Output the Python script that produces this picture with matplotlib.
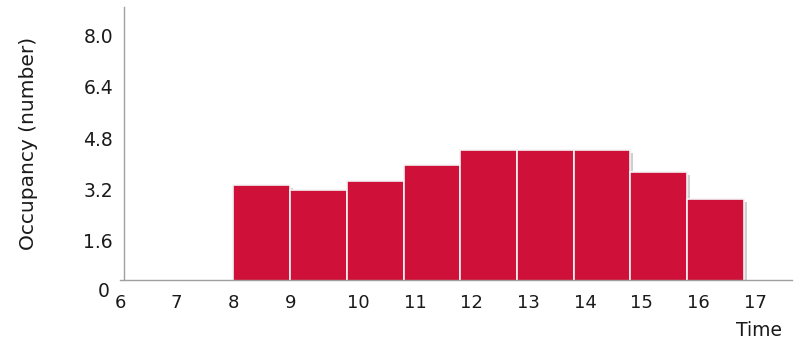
import matplotlib
matplotlib.use("Agg")
import matplotlib.pyplot as plt
import matplotlib.transforms as mtransforms

# hourly occupancy (bar starts at the hour, one hour wide)
hours = [8, 9, 10, 11, 12, 13, 14, 15, 16]
occupancy = [3.33, 3.17, 3.47, 3.95, 4.44, 4.44, 4.44, 3.74, 2.91]
ytick_vals = [1.6, 3.2, 4.8, 6.4, 8.0]
ytick_labels = ["1.6", "3.2", "4.8", "6.4", "8.0"]
xtick_vals = list(range(6, 18))
xtick_labels = [str(h) for h in xtick_vals]

bar_color = "#CF113A"
axis_color = "#A0A0A0"
text_color = "#1A1A1A"

plt.rcParams["font.family"] = "DejaVu Sans"

fig = plt.figure(figsize=(8.02, 3.42), dpi=100)
ax = fig.add_axes([120 / 802, 62 / 342, 672 / 802, 273 / 342])

# spines first: moving a spine resets the tick settings
for side in ["top", "right"]:
    ax.spines[side].set_visible(False)
ax.spines["left"].set_position(("outward", -3))
for side in ["left", "bottom"]:
    ax.spines[side].set_color(axis_color)
    ax.spines[side].set_linewidth(1)
    ax.spines[side].set_zorder(3)

# soft shadow behind the bars
shadow = mtransforms.offset_copy(ax.transData, fig=fig, x=3, y=-3, units="dots")
ax.bar(hours, occupancy, width=1.0, align="edge", color="#888888", alpha=0.4,
       linewidth=0, transform=shadow, zorder=1)
ax.bar(hours, occupancy, width=1.0, align="edge", color=bar_color,
       edgecolor="#F4F4F4", linewidth=1.2, zorder=2)

ax.set_xlim(6, 17.85)
ax.set_ylim(0.366, 8.9)

ax.set_xticks(xtick_vals)
ax.set_xticklabels(xtick_labels, fontsize=13, color=text_color)
# one-digit hours sit centred on the tick, two-digit ones start at it
for lbl in ax.get_xticklabels():
    lbl.set_ha("center" if len(lbl.get_text()) == 1 else "left")
ax.set_yticks(ytick_vals)
ax.set_yticklabels(ytick_labels, fontsize=13.5, color=text_color)
ax.tick_params(axis="both", length=0)
ax.tick_params(axis="x", pad=10)
ax.tick_params(axis="y", pad=8)

# the zero label sits below the axis line
ax.text(-0.0157, 0, "0", transform=ax.get_yaxis_transform(), ha="right",
        va="center", fontsize=13.5, color=text_color, clip_on=False)

ax.set_ylabel("Occupancy (number)", fontsize=14.5, color=text_color)
ax.yaxis.set_label_coords(-0.122, 0.5)
ax.set_xlabel("Time", fontsize=13.5, color=text_color)
ax.xaxis.set_label_coords(0.951, -0.15)

fig.savefig("out.png", dpi=100)
